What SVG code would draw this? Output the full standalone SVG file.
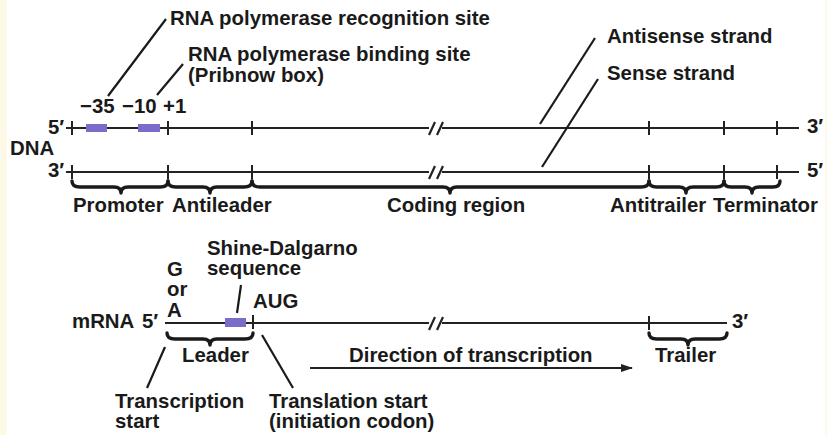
<svg xmlns="http://www.w3.org/2000/svg" width="827" height="435" viewBox="0 0 827 435">
<defs>
<style>
text{font-family:"Liberation Sans",Arial,sans-serif;font-weight:bold;font-size:20.4px;fill:#1a1a1a}
.ln{stroke:#222;stroke-width:2;fill:none}
.tk{stroke:#222;stroke-width:2;fill:none}
.sl{stroke:#222;stroke-width:2.2;fill:none}
.ld{stroke:#1a1a1a;stroke-width:2.2;fill:none}
.br{stroke:#1a1a1a;stroke-width:3.4;fill:none;stroke-linecap:round;stroke-linejoin:round}
.box{fill:#7a6cc8}
</style>
<marker id="ah" markerWidth="12" markerHeight="8" refX="11" refY="4" orient="auto" markerUnits="userSpaceOnUse">
<path d="M0,0 L12,4 L0,8 Z" fill="#222"/>
</marker>
</defs>
<rect x="0" y="0" width="827" height="435" fill="#ffffff"/>
<rect x="0" y="0" width="7" height="435" fill="#fcf9e6"/>
<rect x="825" y="0" width="2" height="435" fill="#fcf9e6"/>

<g id="connectors">
<path class="ln" d="M66,128 H429 M442,128 H799"/>
<path class="sl" d="M429,135 L435,122 M437,135 L443,122"/>
<path class="ln" d="M66,172 H429 M442,172 H799"/>
<path class="sl" d="M429,179 L435,166 M437,179 L443,166"/>
<path class="tk" d="M72,121 V135 M168,121 V135 M252,121 V135 M649,121 V135 M724,121 V135 M777,121 V135"/>
<path class="tk" d="M72,165 V179 M168,165 V179 M252,165 V179 M649,165 V179 M724,165 V179 M777,165 V179"/>
<path class="ln" d="M165,323 H429 M442,323 H727"/>
<path class="sl" d="M429,330 L435,317 M437,330 L443,317"/>
<path class="tk" d="M253,315 V329 M649,316 V330"/>
<path class="ld" d="M166,19 L108,96"/>
<path class="ld" d="M183,64 L157,95"/>
<path class="ld" d="M595,38 L540,124"/>
<path class="ld" d="M598,79 L542,167"/>
<path class="ld" d="M241,285 L237,313"/>
<path class="ld" d="M165,347 L147,388"/>
<path class="ld" d="M262,335 L293,388"/>
<path class="ln" d="M310,368 H632" marker-end="url(#ah)"/>
</g>

<g id="braces">
<path class="br" d="M72,181 Q72,187 80,187 L114,187 Q121,187 121,193 Q121,187 128,187 L160,187 Q168,187 168,181"/>
<path class="br" d="M168,181 Q168,187 176,187 L203,187 Q210,187 210,193 Q210,187 217,187 L244,187 Q252,187 252,181"/>
<path class="br" d="M252,181 Q252,187 260,187 L443,187 Q450,187 450,193 Q450,187 457,187 L641,187 Q649,187 649,181"/>
<path class="br" d="M649,181 Q649,187 657,187 L679,187 Q686,187 686,193 Q686,187 693,187 L716,187 Q724,187 724,181"/>
<path class="br" d="M724,181 Q724,187 731,187 L745,187 Q752,187 752,193 Q752,187 759,187 L773,187 Q780,187 780,181"/>
<path class="br" d="M167,333 Q167,339 175,339 L203,339 Q210,339 210,345 Q210,339 217,339 L245,339 Q253,339 253,333"/>
<path class="br" d="M649,333 Q649,339 657,339 L681,339 Q688,339 688,345 Q688,339 695,339 L719,339 Q727,339 727,333"/>
</g>

<g id="dna">
<text x="10" y="155">DNA</text>
<text x="48" y="134">5′</text>
<text x="48" y="177">3′</text>
<text x="807" y="133">3′</text>
<text x="807" y="177">5′</text>
</g>
<g id="box-35"><rect class="box" x="86" y="124" width="21" height="8"/><text x="80" y="113">−35</text></g>
<g id="box-10"><rect class="box" x="138" y="124" width="22" height="8"/><text x="122" y="113">−10</text></g>
<g id="plus1"><text x="163" y="113">+1</text></g>
<g id="recognition"><text x="170" y="25">RNA polymerase recognition site</text></g>
<g id="binding"><text x="188" y="61">RNA polymerase binding site</text><text x="188" y="82">(Pribnow box)</text></g>
<g id="antisense"><text x="607" y="43">Antisense strand</text></g>
<g id="sense"><text x="607" y="80">Sense strand</text></g>
<g id="promoter"><text x="73" y="212">Promoter</text></g>
<g id="antileader"><text x="172" y="212">Antileader</text></g>
<g id="coding"><text x="387" y="212">Coding region</text></g>
<g id="antitrailer"><text x="610" y="212">Antitrailer</text></g>
<g id="terminator"><text x="713" y="212">Terminator</text></g>

<g id="mrna">
<text x="72" y="328">mRNA</text>
<text x="142" y="328">5′</text>
<text x="732" y="328">3′</text>
</g>
<g id="ga"><text x="167" y="276">G</text><text x="167" y="296">or</text><text x="167" y="317">A</text></g>
<g id="shine"><rect class="box" x="225" y="318" width="21" height="9"/><text x="207" y="255">Shine-Dalgarno</text><text x="207" y="275">sequence</text></g>
<g id="aug"><text x="253" y="308">AUG</text></g>
<g id="leader"><text x="182" y="362">Leader</text></g>
<g id="trailer"><text x="655" y="362">Trailer</text></g>
<g id="direction"><text x="349" y="362">Direction of transcription</text></g>
<g id="tstart"><text x="115" y="408">Transcription</text><text x="115" y="428">start</text></g>
<g id="trstart"><text x="269" y="408">Translation start</text><text x="269" y="428">(initiation codon)</text></g>
</svg>
